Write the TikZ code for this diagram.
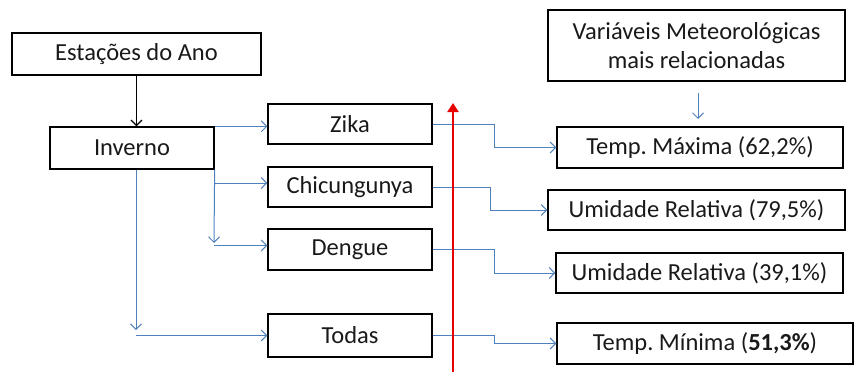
\documentclass[tikz,border=0pt]{standalone}
\usepackage{fontspec}
\setmainfont{Carlito}
\usetikzlibrary{arrows.meta}
\definecolor{conblue}{RGB}{79,129,189}
\definecolor{arrred}{RGB}{230,0,0}
\tikzset{
  box/.style={draw=black, line width=1.3pt, rectangle, inner sep=0pt, font=\fontsize{24.5}{29}\selectfont\frenchspacing, text=black!90},
  bluecon/.style={draw=conblue, line width=1pt, -{Straight Barb[length=5.5pt,width=11pt,line width=1pt]}},
  blackcon/.style={draw=black, line width=1.2pt, -{Straight Barb[length=5.5pt,width=11pt,line width=1.2pt]}},
  redarrow/.style={draw=arrred, line width=2.6pt, -{Triangle[length=9pt,width=11pt]}}
}
\begin{document}
\begin{tikzpicture}[x=1pt,y=-1pt]
\useasboundingbox (0,0) rectangle (861,372);
\node[box, minimum width=249pt, minimum height=42pt] (est) at (136.5,54) {Estações do Ano};
\node[box, minimum width=164pt, minimum height=42pt] (inv) at (132,148) {Inverno};
\node[box, minimum width=164pt, minimum height=40pt] (zika) at (350,124) {Zika};
\node[box, minimum width=164pt, minimum height=40pt] (chic) at (350,187) {Chicungunya};
\node[box, minimum width=164pt, minimum height=41pt] (deng) at (350,249.5) {Dengue};
\node[box, minimum width=164pt, minimum height=43pt] (todas) at (350,335.5) {Todas};
\node[box, minimum width=297pt, minimum height=71pt, align=center] (var) at (696.5,45.5) {Variáveis Meteorológicas\\mais relacionadas};
\node[box, minimum width=286pt, minimum height=41pt] (tmax) at (700,147.5) {Temp. Máxima (62,2\%)};
\node[box, minimum width=297pt, minimum height=40pt] (u79) at (696.5,210) {Umidade Relativa (79,5\%)};
\node[box, minimum width=287pt, minimum height=40pt] (u39) at (699.5,273) {Umidade Relativa (39,1\%)};
\node[box, minimum width=296pt, minimum height=41pt] (tmin) at (705,343.5) {Temp. Mínima (\textbf{51,3\%})};

\coordinate (dv) at (214,243);
\coordinate (b1) at (214,183);
\coordinate (b2) at (214,245.5);
\coordinate (tv) at (136,330);
\coordinate (t2) at (136,335.5);
\coordinate (vtop) at (698,93);
\coordinate (vbot) at (698,119);
\coordinate (rbot) at (453,372);
\coordinate (rtop) at (453,103);

\draw[blackcon] (est.south) -- (est.south |- inv.north);
\draw[bluecon] (inv.north east) -- (zika.west |- inv.north east);
\draw[bluecon] (inv.south east) -- (dv);
\draw[bluecon] (b1) -- (chic.west |- b1);
\draw[bluecon] (b2) -- (deng.west |- b2);
\draw[bluecon] (inv.south -| tv) -- (tv);
\draw[bluecon] (t2) -- (todas.west);
\draw[bluecon] (vtop) -- (vbot);

\draw[bluecon] (zika.east) -- ++(62,0) |- (tmax.west);
\draw[bluecon] (chic.east) -- ++(58,0) |- (u79.west);
\draw[bluecon] (deng.east) -- ++(62,0) |- (u39.west);
\draw[bluecon] (todas.east) -- ++(62,0) |- (tmin.west);

\draw[redarrow] (rbot) -- (rtop);
\end{tikzpicture}
\end{document}
